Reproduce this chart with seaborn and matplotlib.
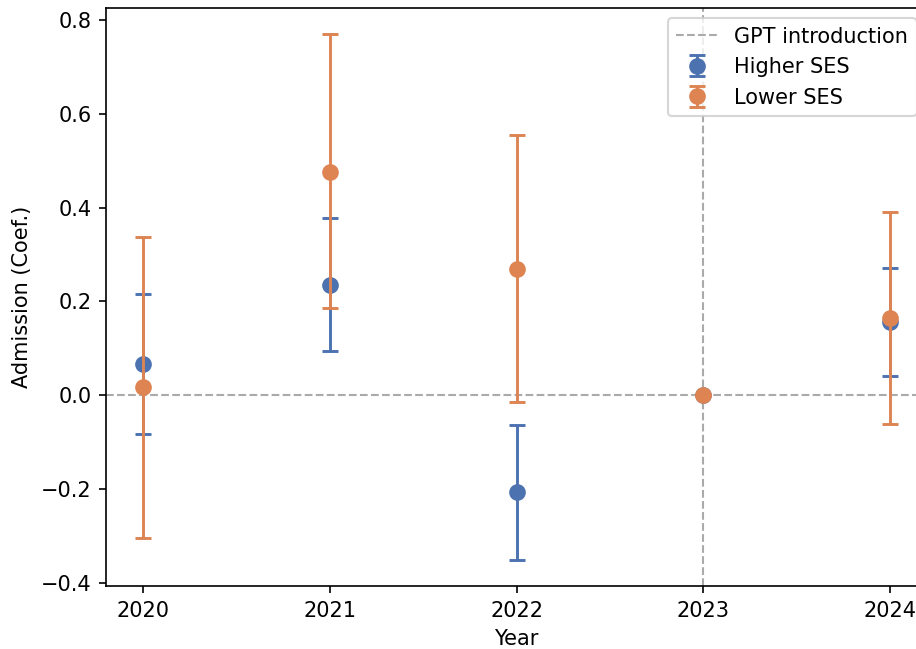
import matplotlib
matplotlib.use("Agg")
import matplotlib.pyplot as plt
import seaborn as sns
import numpy as np

# Event-study coefficients with 95% confidence bounds
years = [2020, 2021, 2022, 2023, 2024]

higher_coef = [0.066, 0.235, -0.207, 0.0, 0.157]
higher_low = [-0.083, 0.094, -0.351, 0.0, 0.042]
higher_high = [0.216, 0.377, -0.064, 0.0, 0.272]

lower_coef = [0.017, 0.477, 0.269, 0.0, 0.165]
lower_low = [-0.305, 0.185, -0.015, 0.0, -0.061]
lower_high = [0.338, 0.770, 0.556, 0.0, 0.391]

event_year = 2023
palette = sns.color_palette("deep")

fig = plt.figure(figsize=(916 / 150, 649 / 150), dpi=150)
ax = fig.add_axes([106 / 916, 63 / 649, 821 / 916, 578 / 649])

ax.axhline(0, color="#aaaaaa", linestyle="--", linewidth=1.0, zorder=1)
ax.axvline(event_year, color="#aaaaaa", linestyle="--", linewidth=1.0,
           label="GPT introduction", zorder=1)

series = [
    ("Higher SES", higher_coef, higher_low, higher_high, palette[0]),
    ("Lower SES", lower_coef, lower_low, lower_high, palette[1]),
]
for i, (name, coef, lo, hi, col) in enumerate(series):
    coef = np.asarray(coef)
    yerr = np.vstack([coef - np.asarray(lo), np.asarray(hi) - coef])
    ax.errorbar(years, coef, yerr=yerr, fmt="o", color=col, markersize=7,
                elinewidth=1.4, capsize=4, capthick=1.4, label=name,
                zorder=3 + i)

ax.set_xticks(years)
ax.set_xlabel("Year")
ax.set_ylabel("Admission (Coef.)")
ax.legend(loc="upper right")

fig.savefig("out.png", dpi=150)
